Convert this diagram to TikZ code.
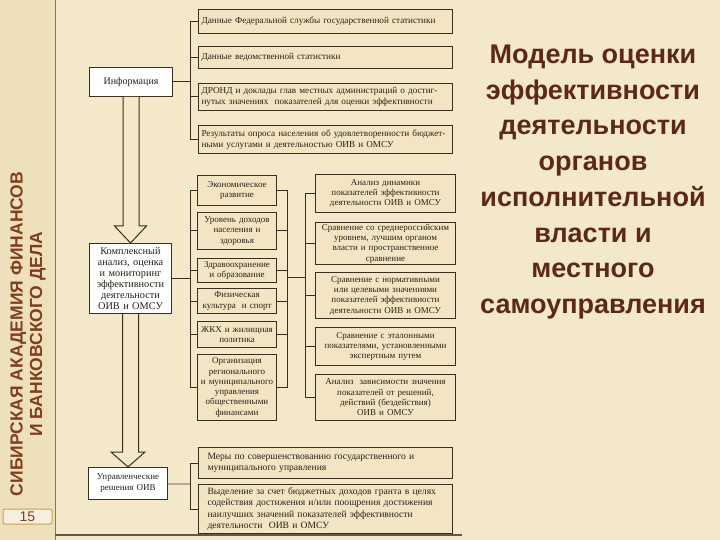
\documentclass[tikz,border=0pt]{standalone}
\usepackage{fontspec}
\setmainfont{Liberation Serif}
\newfontfamily\headfont{Liberation Sans}
\usetikzlibrary{positioning}
\definecolor{slidebg}{RGB}{244,232,203}
\definecolor{stripbg}{RGB}{239,224,188}
\definecolor{boxfill}{RGB}{243,229,195}
\definecolor{boxline}{RGB}{58,46,30}
\definecolor{boxtext}{RGB}{40,33,24}
\definecolor{softline}{RGB}{178,170,155}
\definecolor{titlebrown}{RGB}{92,40,24}
\definecolor{stamp}{RGB}{128,62,30}
\definecolor{gold}{RGB}{201,160,74}

\begin{document}
\begin{tikzpicture}[
  x=1pt,y=-1pt,
  box/.style={draw=boxline,line width=1pt,fill=boxfill,inner xsep=1pt,inner ysep=1pt,
              anchor=north west,text=boxtext,font=\fontsize{9}{10.3}\selectfont},
  wide/.style={box,inner xsep=3pt,text width=248pt,align=left,font=\fontsize{9.2}{11}\selectfont},
  lower/.style={box,inner xsep=9pt,text width=236pt,align=left,font=\fontsize{9.6}{11.6}\selectfont},
  mid/.style={box,text width=77pt,align=center},
  cmp/.style={box,text width=138pt,align=center},
  head/.style={box,fill=white,align=center},
  link/.style={draw=boxline,line width=1pt},
  hollow/.style={draw=boxline,line width=1pt,fill=slidebg,line join=miter}
]
\useasboundingbox (0,0) rectangle (720,540);
\fill[slidebg] (0,0) rectangle (720,540);
\fill[stripbg] (0,0) rectangle (55,540);
\draw[softline!70!black,line width=1pt] (55,0) -- (55,540);
\draw[boxline!80,line width=1.5pt] (55,535) -- (462,535);

\node[rotate=90,align=center,text=stamp,
      font=\headfont\bfseries\fontsize{17.5}{19.5}\selectfont] (academy) at (28,334)
  {СИБИРСКАЯ АКАДЕМИЯ ФИНАНСОВ\\И БАНКОВСКОГО ДЕЛА};
\node[draw=gold,line width=1pt,rounded corners=2pt,fill=stripbg!50!white,
      minimum width=49pt,minimum height=15pt,inner sep=0pt,text=stamp,
      font=\headfont\fontsize{14}{14}\selectfont] (page) at (27.5,516.5) {15};

\node[align=center,text=titlebrown,
      font=\headfont\bfseries\fontsize{27}{35.7}\selectfont] (title) at (593,182)
  {Модель оценки\\эффективности\\деятельности\\органов\\исполнительной\\власти и\\местного\\самоуправления};

\coordinate (sA) at (190,0);
\coordinate (sC) at (287,0);
\coordinate (sD) at (305,0);

\node[head,inner xsep=3pt,text width=77pt,minimum height=29pt,font=\fontsize{10}{11}\selectfont] (info) at (89,67) {Информация};
\node[head,inner xsep=2pt,text width=78pt,minimum height=70pt,font=\fontsize{10.3}{11}\selectfont] (kompl) at (89,243)
  {Комплексный\\анализ, оценка\\и мониторинг\\эффективности\\деятельности\\ОИВ и ОМСУ};
\node[head,inner xsep=2pt,text width=75pt,minimum height=32pt,font=\fontsize{9}{11}\selectfont] (upr) at (88,467)
  {Управленческие\\решения ОИВ};

\node[wide,minimum height=24pt] (d1) at (198,9) {Данные Федеральной службы государственной статистики};
\node[wide,minimum height=22pt] (d2) at (198,46) {Данные ведомственной статистики};
\node[wide,minimum height=27pt] (d3) at (198,83)
  {ДРОНД и доклады глав местных администраций о достиг-\\нутых значениях\ \ показателей для оценки эффективности};
\node[wide,minimum height=28pt] (d4) at (198,125)
  {Результаты опроса населения об удовлетворенности бюджет-\\ными услугами и деятельностью ОИВ и ОМСУ};

\node[mid,minimum height=30pt] (m1) at (197,175) {Экономическое\\развитие};
\node[mid,minimum height=37pt] (m2) at (197,212) {Уровень доходов\\населения и\\здоровья};
\node[mid,minimum height=24pt] (m3) at (197,258) {Здравоохранение\\и образование};
\node[mid,minimum height=25pt] (m4) at (197,288) {Физическая\\культура\ \ и спорт};
\node[mid,minimum height=26pt] (m5) at (197,321) {ЖКХ и жилищная\\политика};
\node[mid,minimum height=66pt] (m6) at (197,354)
  {Организация\\регионального\\и муниципального\\управления\\общественными\\финансами};

\node[cmp,minimum height=38pt] (r1) at (315,174)
  {Анализ динамики\\показателей эффективности\\деятельности ОИВ и ОМСУ};
\node[cmp,minimum height=42pt] (r2) at (315,222)
  {Сравнение со среднероссийским\\уровнем, лучшим органом\\власти и пространственное\\сравнение};
\node[cmp,minimum height=46pt] (r3) at (315,272)
  {Сравнение с нормативными\\или целевыми значениями\\показателей эффективности\\деятельности ОИВ и ОМСУ};
\node[cmp,minimum height=38pt] (r4) at (315,327)
  {Сравнение с эталонными\\показателями, установленными\\экспертным путем};
\node[cmp,minimum height=46pt] (r5) at (315,374)
  {Анализ\ \ зависимости значения\\показателей от решений,\\действий (бездействия)\\ОИВ и ОМСУ};

\node[lower,minimum height=31pt] (b1) at (198,447)
  {Меры по совершенствованию государственного и\\муниципального управления};
\node[lower,minimum height=49pt] (b2) at (198,484)
  {Выделение за счет бюджетных доходов гранта в целях\\содействия достижения и/или поощрения достижения\\наилучших значений показателей эффективности\\деятельности\ \ ОИВ и ОМСУ};

\draw[hollow] ([xshift=-8pt]info.south) |- ([xshift=-16pt,yshift=17pt]kompl.north)
  -- (kompl.north) -- ([xshift=16pt,yshift=17pt]kompl.north) -| ([xshift=8pt]info.south);
\draw[hollow] ([xshift=-8pt]kompl.south) |- ([xshift=-17pt,yshift=15pt]upr.north)
  -- (upr.north) -- ([xshift=17pt,yshift=15pt]upr.north) -| ([xshift=8pt]kompl.south);

\draw[link] (info.east) -- (info.east -| sA);
\draw[link] (d1.west -| sA) -- (d4.west -| sA);
\foreach \n in {d1,d2,d3,d4}
  \draw[link] (\n.west) -- (\n.west -| sA);

\draw[link] (kompl.east) -- (kompl.east -| sA);
\draw[link] (m1.west -| sA) -- (m6.west -| sA);
\draw[link] (m1.east -| sC) -- (m6.east -| sC);
\foreach \n in {m1,m2,m3,m4,m5,m6} {
  \draw[link] (\n.west) -- (\n.west -| sA);
  \draw[link] (\n.east) -- (\n.east -| sC);
}
\draw[link] ([yshift=-7pt]m3.east -| sC) -- ([yshift=-7pt]m3.east -| sD);
\draw[link] (r1.west -| sD) -- (r5.west -| sD);
\foreach \n in {r1,r2,r3,r4,r5}
  \draw[link] (\n.west) -- (\n.west -| sD);

\draw[link,draw=softline,line width=2pt] (upr.east) -- (upr.east -| sA);
\draw[link] (b1.west -| sA) -- (b2.west -| sA);
\foreach \n in {b1,b2}
  \draw[link] (\n.west) -- (\n.west -| sA);
\end{tikzpicture}
\end{document}
